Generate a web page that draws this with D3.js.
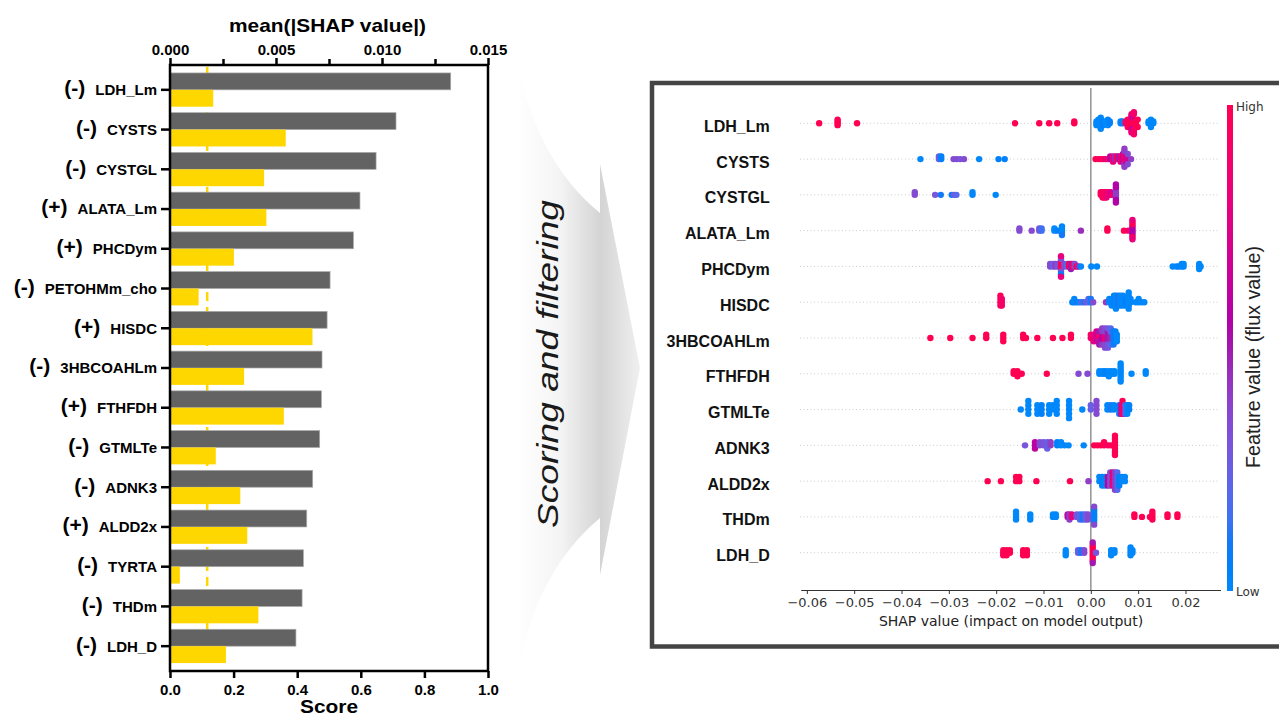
<!DOCTYPE html>
<html>
<head>
<meta charset="utf-8">
<script src="https://cdn.jsdelivr.net/npm/d3@7"></script>
<style>
  body { margin: 0; background: #fff; }
  svg { display: block; }
</style>
</head>
<body>
<svg width="1279" height="714"></svg>
<script>
// ---- left panel data: score + mean(|SHAP|) per flux ----
const features = ["LDH_Lm", "CYSTS", "CYSTGL", "ALATA_Lm", "PHCDym", "PETOHMm_cho", "HISDC",
                  "3HBCOAHLm", "FTHFDH", "GTMLTe", "ADNK3", "ALDD2x", "TYRTA", "THDm", "LDH_D"];
const signs = ["-", "-", "-", "+", "+", "-", "+", "-", "+", "-", "-", "+", "-", "-", "-"];
const meanShap = [0.01324, 0.01066, 0.00972, 0.00896, 0.00865, 0.00755, 0.00741,
                  0.00717, 0.00714, 0.00706, 0.00673, 0.00645, 0.00629, 0.00623, 0.00594];
const scores = [0.136, 0.364, 0.296, 0.303, 0.201, 0.090, 0.448,
                0.233, 0.358, 0.144, 0.221, 0.243, 0.031, 0.278, 0.176];
const scoreCutoff = 0.117;
const meanTicks = [0, 0.005, 0.010, 0.015];
const meanMinorTicks = [0.0025, 0.0075, 0.0125];
const scoreTicks = [0, 0.2, 0.4, 0.6, 0.8, 1.0];

// ---- right panel data: SHAP summary (beeswarm) ----
// each entry: [shap value, feature value 0 (low) .. 1 (high), number of samples]
const shapFeatures = ["LDH_Lm", "CYSTS", "CYSTGL", "ALATA_Lm", "PHCDym", "HISDC", "3HBCOAHLm",
                      "FTHFDH", "GTMLTe", "ADNK3", "ALDD2x", "THDm", "LDH_D"];
const shapLDH_Lm = [[-0.0574,1,1],[-0.0535,1,4],[-0.0494,1,1],[-0.0160,1,1],[-0.0109,1,1],[-0.0088,1,1],
  [-0.0071,1,1],[-0.0035,1,2],[0.0012,0,3],[0.0016,0,4],[0.0021,0,3],[0.0026,0.05,3],[0.0031,0,2],
  [0.0036,0,2],[0.0040,0.05,2],[0.0063,0,2],[0.0067,0.1,2],[0.0074,1,2],[0.0078,0.9,3],[0.0082,1,5],
  [0.0086,0.8,6],[0.0088,1,5],[0.0088,0.7,3],[0.0091,0.9,5],[0.0095,1,3],[0.0099,1,2],
  [0.0122,0,2],[0.0127,0,3],[0.0132,0,2]];
const shapCYSTS = [[-0.0360,0,1],[-0.0321,0.25,2],[-0.0316,0.05,2],[-0.0290,0.35,1],[-0.0283,0.35,1],
  [-0.0276,0.3,1],[-0.0268,0.35,1],[-0.0236,0,1],[-0.0195,0.05,1],[-0.0182,0.05,1],
  [0.0010,1,1],[0.0016,1,1],[0.0021,0.9,1],[0.0026,1,1],[0.0031,0.8,1],[0.0036,0.9,1],[0.0041,0.6,2],
  [0.0047,0.8,3],[0.0051,0.45,2],[0.0055,1,2],[0.0059,0.5,2],[0.0063,0.8,3],[0.0068,0.6,4],
  [0.0071,1,4],[0.0071,0.4,4],[0.0074,0.7,3],[0.0078,0.35,2],[0.0085,0.4,1]];
const shapCYSTGL = [[-0.0372,0.35,2],[-0.0329,0.3,1],[-0.0317,0.1,1],[-0.0294,0.05,1],[-0.0289,0.3,1],
  [-0.0284,0.2,1],[-0.0250,0,2],[-0.0201,0,1],[0.0021,1,2],[0.0025,0.9,3],[0.0029,1,3],[0.0033,0.8,3],
  [0.0037,0.9,2],[0.0042,0.7,2],[0.0047,0.9,1],[0.0053,0.4,4],[0.0053,0.55,4]];
const shapALATA_Lm = [[-0.0151,0.35,2],[-0.0125,0.35,1],[-0.0109,0.3,2],[-0.0104,0.15,2],[-0.0077,0,2],
  [-0.0070,0.05,1],[-0.0061,0,4],[-0.0061,0.1,1],[-0.0021,0.45,1],[0.0035,1,2],[0.0070,1,1],
  [0.0079,0.9,1],[0.0088,0.55,5],[0.0088,1,3],[0.0088,0.8,2]];
const shapPHCDym = [[-0.0086,0.35,2],[-0.0080,0.25,2],[-0.0075,0.4,2],[-0.0070,0.3,2],[-0.0063,1,4],
  [-0.0063,0.3,2],[-0.0063,0.05,1],[-0.0063,0.8,2],[-0.0056,0.35,2],[-0.0050,0.2,2],[-0.0046,1,2],
  [-0.0042,0.5,3],[-0.0038,0.9,2],[-0.0034,0.35,2],[-0.0030,1,1],[-0.0026,0.45,1],[-0.0021,0,1],
  [0.0001,0,1],[0.0013,0,1],[0.0173,0,1],[0.0181,0,1],[0.0186,0.05,1],[0.0192,0,2],[0.0196,0,2],
  [0.0229,0,3],[0.0232,0,1]];
const shapHISDC = [[-0.0191,1,4],[-0.0188,0.9,3],[-0.0039,0.05,1],[-0.0035,0,2],[-0.0030,0.1,1],
  [-0.0025,0,1],[-0.0020,0.2,1],[-0.0015,0.1,1],[-0.0010,0.3,1],[-0.0005,0.2,2],[0.0000,0.1,2],
  [0.0005,0.35,1],[0.0032,0.4,1],[0.0039,0,2],[0.0044,0,3],[0.0049,0.05,4],[0.0053,0,5],
  [0.0058,0.1,4],[0.0063,0,4],[0.0068,0,4],[0.0074,0.05,3],[0.0080,0,6],[0.0084,0,2],
  [0.0095,0,1],[0.0101,0,2],[0.0107,0,1],[0.0113,0,1]];
const shap3HBCOAHLm = [[-0.0339,1,1],[-0.0297,1,1],[-0.0250,1,1],[-0.0221,1,2],[-0.0185,1,3],
  [-0.0143,1,2],[-0.0137,1,1],[-0.0113,1,1],[-0.0080,1,1],[-0.0060,1,1],[-0.0042,1,2],
  [0.0000,0.9,2],[0.0006,0.8,3],[0.0012,0.7,4],[0.0018,0.9,2],[0.0018,0.5,3],[0.0024,0.6,3],
  [0.0024,0.4,3],[0.0030,0.8,3],[0.0030,0.35,4],[0.0036,0.5,4],[0.0036,0.3,3],[0.0042,0.45,3],
  [0.0042,0.2,3],[0.0048,0.1,5],[0.0052,0.05,4],[0.0055,0,3]];
const shapFTHFDH = [[-0.0163,1,2],[-0.0155,1,3],[-0.0146,1,1],[-0.0093,1,1],[-0.0026,0.35,1],
  [-0.0007,0.35,1],[0.0018,0,2],[0.0025,0,2],[0.0031,0.05,2],[0.0038,0,3],[0.0044,0,2],
  [0.0050,0,2],[0.0063,0,8],[0.0086,0,1],[0.0116,0,2]];
const shapGTMLTe = [[-0.0148,0,1],[-0.0132,0,4],[-0.0113,0,3],[-0.0104,0.05,3],[-0.0088,0,3],
  [-0.0080,0,2],[-0.0072,0,4],[-0.0046,0,5],[-0.0018,0,1],[0.0000,0.25,2],[0.0012,0.35,4],
  [0.0035,0,2],[0.0042,0.1,2],[0.0049,0,2],[0.0060,0.1,3],[0.0064,0.5,3],[0.0067,1,4],
  [0.0070,0.8,3],[0.0073,0.2,3],[0.0077,0,3],[0.0081,0.05,2]];
const shapADNK3 = [[-0.0139,0.3,1],[-0.0118,0.6,3],[-0.0108,0.35,2],[-0.0100,0.3,2],[-0.0092,0.25,3],
  [-0.0085,0.4,2],[-0.0071,0.05,2],[-0.0063,0,2],[-0.0055,0,1],[-0.0047,0,1],[-0.0015,0,1],
  [0.0007,1,1],[0.0014,1,1],[0.0021,1,1],[0.0028,1,2],[0.0036,0.9,1],[0.0042,1,1],[0.0051,1,7]];
const shapALDD2x = [[-0.0218,1,1],[-0.0190,1,1],[-0.0158,1,2],[-0.0151,1,2],[-0.0115,1,1],
  [-0.0044,1,1],[-0.0005,0.4,1],[0.0018,0,2],[0.0024,0.05,3],[0.0030,0,3],[0.0036,0.6,3],
  [0.0041,0.3,4],[0.0046,0.8,4],[0.0051,0.4,5],[0.0056,0.2,5],[0.0060,0.05,3],[0.0066,0,2],
  [0.0072,0,2]];
const shapTHDm = [[-0.0158,0,4],[-0.0128,0,3],[-0.0080,0,2],[-0.0074,0,2],[-0.0049,0.6,2],
  [-0.0045,0.4,3],[-0.0040,0.8,2],[-0.0030,0.3,2],[-0.0023,0.2,3],[-0.0017,0.1,3],[-0.0011,0.25,3],
  [-0.0006,0.35,3],[0.0007,0.05,6],[0.0007,0.35,2],[0.0092,1,2],[0.0108,1,1],[0.0125,1,1],
  [0.0130,1,4],[0.0162,1,2],[0.0183,1,2]];
const shapLDH_D = [[-0.0185,1,3],[-0.0178,1,3],[-0.0171,1,2],[-0.0143,1,3],[-0.0135,1,3],
  [-0.0053,0,3],[-0.0027,0.25,2],[-0.0021,0.1,2],[-0.0014,0.35,2],[0.0004,1,7],[0.0004,0.5,2],
  [0.0011,0.3,1],[0.0043,0,3],[0.0050,0,2],[0.0084,0,4],[0.0088,0,2]];
const shapRows = [shapLDH_Lm, shapCYSTS, shapCYSTGL, shapALATA_Lm, shapPHCDym, shapHISDC, shap3HBCOAHLm,
                  shapFTHFDH, shapGTMLTe, shapADNK3, shapALDD2x, shapTHDm, shapLDH_D];
const shapAxisTicks = [-0.06, -0.05, -0.04, -0.03, -0.02, -0.01, 0, 0.01, 0.02];

const svg = d3.select("svg");
const boldFont = "'Liberation Sans', Arial, sans-serif";

// ================= left: score bars =================
const L = {left: 170, right: 488, top: 65, bottom: 671};
const xScore = d3.scaleLinear().domain([0, 1]).range([L.left, L.right]);
const xMean = d3.scaleLinear().domain([0, 0.015]).range([L.left, L.right]);
const yBand = d3.scaleBand().domain(features).range([L.top, L.bottom])
                .paddingInner(0.15).paddingOuter(0.2);
const half = yBand.bandwidth() / 2;

const left = svg.append("g").attr("font-family", boldFont).attr("font-weight", "bold");

// cutoff line sits behind the bars
left.append("line")
    .attr("x1", xScore(scoreCutoff)).attr("x2", xScore(scoreCutoff))
    .attr("y1", L.top + 2).attr("y2", L.bottom - 6)
    .attr("stroke", "#FFD700").attr("stroke-width", 2.5)
    .attr("stroke-dasharray", "9,6");

left.selectAll("rect.mean")
    .data(features)
    .join("rect")
    .attr("class", "mean")
    .attr("x", L.left)
    .attr("y", d => yBand(d))
    .attr("width", (d, i) => xMean(meanShap[i]) - L.left)
    .attr("height", half)
    .attr("fill", "#636363")
    .attr("stroke", "#a8a8a8")
    .attr("stroke-width", 0.7);

left.selectAll("rect.score")
    .data(features)
    .join("rect")
    .attr("class", "score")
    .attr("x", L.left)
    .attr("y", d => yBand(d) + half)
    .attr("width", (d, i) => xScore(scores[i]) - L.left)
    .attr("height", half)
    .attr("fill", "#FFD700");

// frame
left.append("rect")
    .attr("x", L.left).attr("y", L.top)
    .attr("width", L.right - L.left).attr("height", L.bottom - L.top)
    .attr("fill", "none").attr("stroke", "#000").attr("stroke-width", 2.5);

function styleAxis(g, size) {
  g.attr("font-family", boldFont).attr("font-weight", "bold").attr("font-size", size);
  g.select(".domain").remove();
  g.selectAll(".tick line").attr("stroke", "#000").attr("stroke-width", 2.5);
  g.selectAll(".tick text").attr("fill", "#000");
}

left.append("g")
    .attr("transform", `translate(0,${L.top})`)
    .call(d3.axisTop(xMean).tickValues(meanTicks).tickFormat(d3.format(".3f")).tickSize(7).tickPadding(3))
    .call(g => styleAxis(g, 15));
left.append("g")
    .attr("transform", `translate(0,${L.top})`)
    .call(d3.axisTop(xMean).tickValues(meanMinorTicks).tickFormat("").tickSize(6))
    .call(g => styleAxis(g, 15));

left.append("g")
    .attr("transform", `translate(0,${L.bottom})`)
    .call(d3.axisBottom(xScore).tickValues(scoreTicks).tickFormat(d3.format(".1f")).tickSize(7).tickPadding(6))
    .call(g => styleAxis(g, 15));

left.append("g")
    .attr("transform", `translate(${L.left},0)`)
    .call(d3.axisLeft(yBand).tickFormat("").tickSize(9))
    .call(g => styleAxis(g, 15));

// category labels with sign prefix
left.selectAll("text.cat")
    .data(features)
    .join("text")
    .attr("class", "cat")
    .attr("x", L.left - 13)
    .attr("y", d => yBand(d) + half)
    .attr("dy", "0.36em")
    .attr("text-anchor", "end")
    .attr("font-size", 15)
    .attr("fill", "#000")
    .each(function(d, i) {
      const t = d3.select(this);
      t.append("tspan").attr("font-size", 21).text(`(${signs[i]})`);
      t.append("tspan").attr("dx", 10).text(d);
    });

left.append("text")
    .attr("x", 327.5).attr("y", 32)
    .attr("text-anchor", "middle")
    .attr("font-size", 19)
    .attr("textLength", 197).attr("lengthAdjust", "spacingAndGlyphs")
    .text("mean(|SHAP value|)");

left.append("text")
    .attr("x", 329).attr("y", 713)
    .attr("text-anchor", "middle")
    .attr("font-size", 19)
    .attr("textLength", 58).attr("lengthAdjust", "spacingAndGlyphs")
    .text("Score");

// ================= middle: arrow =================
const defs = svg.append("defs");
const grad = defs.append("linearGradient").attr("id", "arrowGrad")
    .attr("gradientUnits", "userSpaceOnUse")
    .attr("x1", 517).attr("x2", 640).attr("y1", 0).attr("y2", 0);
grad.append("stop").attr("offset", 0).attr("stop-color", "#ffffff");
grad.append("stop").attr("offset", 0.35).attr("stop-color", "#f4f4f4");
grad.append("stop").attr("offset", 0.68).attr("stop-color", "#d4d4d4");
grad.append("stop").attr("offset", 1).attr("stop-color", "#f0f0f0");

const arrow = d3.path();
arrow.moveTo(517, 57);
arrow.quadraticCurveTo(535, 160, 600, 213);
arrow.lineTo(600, 164);
arrow.lineTo(640, 368);
arrow.lineTo(600, 575);
arrow.lineTo(600, 518);
arrow.quadraticCurveTo(535, 572, 517, 676);
arrow.closePath();
svg.append("path").attr("d", arrow.toString()).attr("fill", "url(#arrowGrad)");

svg.append("text")
    .attr("transform", "translate(558,364) rotate(-90)")
    .attr("text-anchor", "middle")
    .attr("font-family", boldFont)
    .attr("font-style", "italic")
    .attr("font-size", 30)
    .attr("fill", "#1a1a1a")
    .attr("textLength", 328).attr("lengthAdjust", "spacingAndGlyphs")
    .text("Scoring and filtering");

// ================= right: SHAP beeswarm =================
const right = svg.append("g");
right.append("rect")
    .attr("x", 652).attr("y", 83).attr("width", 640).attr("height", 563.5)
    .attr("fill", "none").attr("stroke", "#444").attr("stroke-width", 4.5);

const xShap = d3.scaleLinear().domain([-0.0613, 0.0274]).range([800.7, 1220.5]);
const yRow = d3.scalePoint().domain(shapFeatures).range([123.3, 552.7]);
const rowStep = yRow.step();

// SHAP red_blue colormap (LCH interpolation with a darker middle)
function shapColor(t) {
  const l = t < 0.5 ? 54 - 28 * t : 40 + 28 * (t - 0.5);
  const c = 70 + 20 * t;
  const h = 266.93 + (380.32 - 266.93) * t;
  return d3.hcl(h % 360, c, l).formatHex();
}

right.selectAll("line.grid")
    .data(shapFeatures)
    .join("line")
    .attr("class", "grid")
    .attr("x1", 800).attr("x2", 1220)
    .attr("y1", d => yRow(d)).attr("y2", d => yRow(d))
    .attr("stroke", "#cccccc").attr("stroke-width", 1)
    .attr("stroke-dasharray", "1,2.5");

right.append("line")
    .attr("x1", xShap(0)).attr("x2", xShap(0))
    .attr("y1", 88).attr("y2", 590)
    .attr("stroke", "#999").attr("stroke-width", 1.6);

// beeswarm stacking as in shap.summary_plot
function swarm(points) {
  const vals = points.map(p => p.v);
  const lo = d3.min(vals), hi = d3.max(vals);
  const nbins = 100;
  const quant = vals.map(v => Math.round(nbins * (v - lo) / (hi - lo + 1e-8)));
  const order = d3.range(points.length).sort((a, b) => quant[a] - quant[b] || a - b);
  const ys = new Array(points.length).fill(0);
  let layer = 0, last = null;
  order.forEach(i => {
    if (quant[i] !== last) layer = 0;
    ys[i] = Math.ceil(layer / 2) * ((layer % 2) * 2 - 1);
    layer += 1;
    last = quant[i];
  });
  const m = d3.max(ys) + 1;
  return ys.map(y => y * 0.9 * 0.4 / m);
}

shapRows.forEach((row, r) => {
  const pts = [];
  row.forEach(([v, c, k]) => { for (let j = 0; j < k; j++) pts.push({v, c}); });
  const offs = swarm(pts);
  right.append("g")
      .selectAll("circle")
      .data(pts)
      .join("circle")
      .attr("cx", d => xShap(d.v))
      .attr("cy", (d, i) => yRow(shapFeatures[r]) - offs[i] * rowStep)
      .attr("r", 3.2)
      .attr("fill", d => shapColor(d.c));
});

right.selectAll("text.feat")
    .data(shapFeatures)
    .join("text")
    .attr("class", "feat")
    .attr("x", 769.7)
    .attr("y", d => yRow(d) + 8.5)
    .attr("text-anchor", "end")
    .attr("font-family", boldFont)
    .attr("font-weight", "bold")
    .attr("font-size", 16)
    .attr("fill", "#111")
    .text(d => d);

const xAxisG = right.append("g")
    .attr("transform", "translate(0,590)")
    .call(d3.axisBottom(xShap).tickValues(shapAxisTicks).tickFormat(d3.format(".2f"))
            .tickSize(4).tickSizeOuter(0).tickPadding(4));
xAxisG.attr("font-family", "'DejaVu Sans', sans-serif").attr("font-size", 13);
xAxisG.select(".domain").attr("stroke", "#333").attr("stroke-width", 1.2);
xAxisG.selectAll(".tick line").attr("stroke", "#333");
xAxisG.selectAll(".tick text").attr("fill", "#333");

right.append("text")
    .attr("x", 1011).attr("y", 626)
    .attr("text-anchor", "middle")
    .attr("font-family", "'DejaVu Sans', sans-serif")
    .attr("font-size", 14)
    .attr("fill", "#222")
    .text("SHAP value (impact on model output)");

// colour bar
const cbGrad = defs.append("linearGradient").attr("id", "cbGrad")
    .attr("x1", 0).attr("x2", 0).attr("y1", 1).attr("y2", 0);
d3.range(0, 1.0001, 0.05).forEach(t => {
  cbGrad.append("stop").attr("offset", t).attr("stop-color", shapColor(t));
});
right.append("rect")
    .attr("x", 1227).attr("y", 105).attr("width", 6).attr("height", 486)
    .attr("fill", "url(#cbGrad)");

right.append("text")
    .attr("x", 1236).attr("y", 111)
    .attr("font-family", "'DejaVu Sans', sans-serif").attr("font-size", 12).attr("fill", "#333")
    .text("High");
right.append("text")
    .attr("x", 1236).attr("y", 596)
    .attr("font-family", "'DejaVu Sans', sans-serif").attr("font-size", 12).attr("fill", "#333")
    .text("Low");

right.append("text")
    .attr("transform", "translate(1260,357) rotate(-90)")
    .attr("text-anchor", "middle")
    .attr("font-family", boldFont)
    .attr("font-size", 19.5)
    .attr("fill", "#222")
    .attr("textLength", 222).attr("lengthAdjust", "spacingAndGlyphs")
    .text("Feature value (flux value)");
</script>
</body>
</html>
